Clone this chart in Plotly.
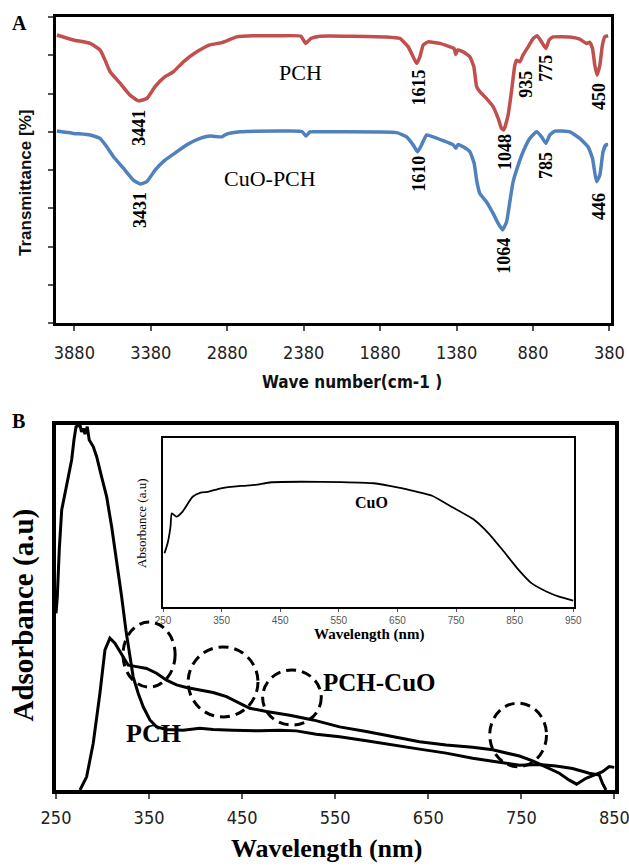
import plotly.graph_objects as go

# ---------------- Panel A : FTIR ----------------
pch_wn = [3994, 3886, 3777, 3712, 3680, 3646, 3581, 3516, 3461, 3406,
          3352, 3287, 3232, 3167, 3079, 2993, 2916, 2818, 2709, 2535,
          2399, 2367, 2333, 2273, 1838, 1751, 1696, 1664, 1641, 1620,
          1598, 1566, 1489, 1424, 1396, 1385, 1373, 1337, 1293, 1267,
          1249, 1228, 1184, 1141, 1108, 1086, 1071, 1043, 1021, 999,
          988, 966, 945, 912, 879, 853, 824, 796, 775, 749,
          639, 574, 530, 509, 491, 476, 461, 443, 426, 411, 389]
pch_t = [7.53, 7.40, 7.31, 7.14, 6.88, 6.57, 6.27, 5.96, 5.81, 5.87,
         6.18, 6.44, 6.57, 6.83, 7.09, 7.27, 7.33, 7.48, 7.51, 7.51,
         7.50, 7.31, 7.44, 7.50, 7.48, 7.44, 7.22, 6.96, 6.79, 6.96,
         7.27, 7.35, 7.31, 7.22, 7.18, 7.02, 7.14, 7.09, 6.96, 6.70,
         6.18, 6.05, 5.87, 5.66, 5.35, 5.09, 5.05, 5.44, 6.05, 6.74,
         6.87, 6.83, 7.01, 7.22, 7.44, 7.51, 7.35, 7.18, 7.40, 7.48,
         7.48, 7.42, 7.31, 7.34, 7.18, 6.74, 6.48, 6.74, 7.27, 7.48, 7.51]

cuo_pch_wn = [3994, 3886, 3777, 3712, 3668, 3624, 3559, 3494, 3450, 3406,
              3352, 3287, 3210, 3145, 3058, 2993, 2916, 2883, 2796, 2535,
              2391, 2365, 2339, 2273, 1772, 1707, 1664, 1635, 1609, 1576,
              1533, 1468, 1402, 1385, 1370, 1337, 1293, 1265, 1249, 1228,
              1184, 1141, 1108, 1079, 1053, 1032, 1010, 977, 945, 901,
              857, 824, 796, 770, 738, 639, 574, 520, 491, 465,
              443, 422, 404, 389]
cuo_pch_t = [5.02, 4.96, 4.92, 4.83, 4.61, 4.35, 4.05, 3.74, 3.64, 3.70,
             4.00, 4.26, 4.48, 4.66, 4.83, 4.89, 4.87, 4.94, 5.00, 5.02,
             5.01, 4.89, 5.00, 5.00, 4.98, 4.87, 4.66, 4.48, 4.66, 4.92,
             4.87, 4.77, 4.66, 4.57, 4.67, 4.61, 4.48, 4.18, 3.74, 3.39,
             3.17, 2.87, 2.61, 2.44, 2.65, 3.17, 3.70, 4.13, 4.48, 4.83,
             5.00, 4.87, 4.70, 4.92, 5.02, 5.00, 4.83, 4.61, 4.31, 3.70,
             3.87, 4.48, 4.66, 4.67]

ftir_ticks = [3880, 3380, 2880, 2380, 1880, 1380, 880, 380]

# peak labels: text, wavenumber position, transmittance position
pch_peak_text = ["3441", "1615", "1048", "935", "775", "450"]
pch_peak_x = [3457, 1623, 1064, 927, 796, 450]
pch_peak_y = [5.11, 6.17, 4.47, 6.25, 6.67, 5.93]
cuo_peak_text = ["3431", "1610", "1064", "785", "446"]
cuo_peak_x = [3450, 1623, 1071, 796, 450]
cuo_peak_y = [2.96, 3.92, 1.76, 4.13, 3.06]

# ---------------- Panel B : UV-Vis ----------------
uv_pch_nm = [250, 251.4, 253.5, 256.1, 259.7, 263.2, 266.8, 269.3, 271.5, 275.8,
             277.4, 279.3, 281.1, 283.6, 285.7, 290, 293.7, 299, 304.4, 309.8,
             315.1, 320.5, 325.1, 329.4, 332.9, 338.3, 343.7, 350.9, 358, 368.8,
             386.6, 404.5, 418.8, 440.2, 468.9, 490.3, 508.3, 529.7, 554.7, 583.4,
             611.9, 640.6, 669.2, 697.7, 726.4, 747.9, 769.3, 787.2, 805, 823,
             833.7, 837.2, 840.9]
uv_pch_abs = [0.484, 0.530, 0.658, 0.767, 0.813, 0.858, 0.904, 0.959, 0.995, 1.0,
              0.981, 0.991, 0.975, 0.995, 0.959, 0.941, 0.913, 0.858, 0.804, 0.721,
              0.630, 0.530, 0.438, 0.365, 0.310, 0.265, 0.228, 0.192, 0.173, 0.166,
              0.164, 0.169, 0.166, 0.164, 0.162, 0.164, 0.162, 0.153, 0.146, 0.135,
              0.123, 0.112, 0.101, 0.087, 0.076, 0.068, 0.070, 0.066, 0.059, 0.046,
              0.041, 0.018, 0.0]

uv_pchcuo_nm = [275.8, 282.9, 290, 297.2, 302.6, 307.9, 313.3, 318.7, 324, 327.6,
                336.6, 347.3, 358, 368.8, 379.5, 390.2, 404.5, 418.8, 433.2, 447.4,
                458.2, 476.1, 501.1, 526.1, 554.7, 583.4, 611.9, 640.6, 669.2, 697.7,
                719.2, 733.6, 747.9, 762.1, 776.5, 790.8, 801.5, 809.3, 819.4, 830.1,
                837.2, 844.4, 849.8]
uv_pchcuo_abs = [0.0, 0.036, 0.128, 0.265, 0.384, 0.416, 0.402, 0.379, 0.356, 0.342,
                 0.338, 0.333, 0.320, 0.301, 0.288, 0.281, 0.274, 0.267, 0.256, 0.238,
                 0.224, 0.215, 0.205, 0.192, 0.173, 0.160, 0.146, 0.132, 0.123, 0.117,
                 0.110, 0.102, 0.093, 0.080, 0.064, 0.046, 0.027, 0.016, 0.032, 0.044,
                 0.050, 0.064, 0.062]

uv_ticks = [250, 350, 450, 550, 650, 750, 850]

# inset : CuO
cuo_nm = [252.6, 258, 262.8, 265, 273.1, 283.4, 300.5, 314.4, 328.1, 348.6,
          383, 407, 434.6, 486, 554.8, 609.6, 637, 671.2, 709.2, 740.2,
          781.3, 805.5, 829.5, 856.8, 877.6, 905, 925.7, 950]
cuo_abs = [0.320, 0.380, 0.477, 0.556, 0.536, 0.566, 0.654, 0.678, 0.684, 0.704,
           0.718, 0.724, 0.740, 0.743, 0.741, 0.734, 0.718, 0.694, 0.660, 0.599,
           0.517, 0.438, 0.339, 0.221, 0.146, 0.092, 0.063, 0.040]
inset_ticks = [250, 350, 450, 550, 650, 750, 850, 950]

# dashed ellipses (nm range, absorbance range)
circle_x0 = [322, 392, 472, 716]
circle_x1 = [378, 467, 535, 777]
circle_y0 = [0.282, 0.200, 0.178, 0.064]
circle_y1 = [0.460, 0.392, 0.329, 0.238]

W, H = 629, 866
def px(x):
    return x / W
def py(y):
    return 1 - y / H

fig = go.Figure()
fig.add_trace(go.Scatter(x=pch_wn, y=pch_t, mode="lines", xaxis="x", yaxis="y",
                         line=dict(color="#C0504D", width=3.5, shape="spline", smoothing=0.4),
                         showlegend=False, hoverinfo="skip"))
fig.add_trace(go.Scatter(x=cuo_pch_wn, y=cuo_pch_t, mode="lines", xaxis="x", yaxis="y",
                         line=dict(color="#4F81BD", width=3.5, shape="spline", smoothing=0.4),
                         showlegend=False, hoverinfo="skip"))
fig.add_trace(go.Scatter(x=uv_pch_nm, y=uv_pch_abs, mode="lines", xaxis="x2", yaxis="y2",
                         line=dict(color="black", width=3),
                         showlegend=False, hoverinfo="skip"))
fig.add_trace(go.Scatter(x=uv_pchcuo_nm, y=uv_pchcuo_abs, mode="lines", xaxis="x2", yaxis="y2",
                         line=dict(color="black", width=3),
                         showlegend=False, hoverinfo="skip"))
fig.add_trace(go.Scatter(x=cuo_nm, y=cuo_abs, mode="lines", xaxis="x3", yaxis="y3",
                         line=dict(color="black", width=1.8, shape="spline", smoothing=0.5),
                         showlegend=False, hoverinfo="skip"))

serif = "Liberation Serif, Times New Roman, serif"
narrow = "Liberation Sans Narrow, Arial Narrow, DejaVu Sans Condensed, sans-serif"
sans = "Liberation Sans, Arial, sans-serif"

def lab(text, x, y, xref, yref, family, size, bold=False, angle=0, color="black"):
    f = dict(family=family, size=size, color=color)
    if bold:
        f["weight"] = "bold"
    return dict(text=text, x=x, y=y, xref=xref, yref=yref, showarrow=False,
                textangle=angle, xanchor="center", yanchor="middle", font=f)

ann = []
for t, x, y in zip(pch_peak_text + cuo_peak_text, pch_peak_x + cuo_peak_x, pch_peak_y + cuo_peak_y):
    ann.append(lab(t, x, y, "x", "y", serif, 18, bold=True, angle=-90))
ann += [
    lab("PCH", 2398, 6.55, "x", "y", serif, 22),
    lab("CuO-PCH", 2600, 3.79, "x", "y", serif, 22),
    lab("PCH", 355, 0.156, "x2", "y2", serif, 26, bold=True),
    lab("PCH-CuO", 598, 0.295, "x2", "y2", serif, 25, bold=True),
    lab("CuO", 605, 0.62, "x3", "y3", serif, 16, bold=True),
    lab("A", px(19), py(23.5), "paper", "paper", serif, 20, bold=True),
    lab("B", px(18), py(421.5), "paper", "paper", serif, 20, bold=True),
    lab("Transmittance [%]", px(26), py(183), "paper", "paper", sans, 17, bold=True,
        angle=-90, color="#111"),
    lab("Wave number(cm-1 )", px(352), py(381.7), "paper", "paper", narrow, 17, bold=True,
        color="#111"),
    lab("Adsorbance (a.u)", px(22.5), py(615), "paper", "paper", serif, 29, bold=True, angle=-90),
    lab("Wavelength (nm)", px(326), py(848), "paper", "paper", serif, 26, bold=True),
    lab("Wavelength (nm)", px(369), py(634), "paper", "paper", serif, 15, bold=True),
    lab("Absorbance (a.u)", px(141), py(523), "paper", "paper", serif, 13, angle=-90),
]

shapes = []
for x0, x1, y0, y1 in zip(circle_x0, circle_x1, circle_y0, circle_y1):
    shapes.append(dict(type="circle", xref="x2", yref="y2", x0=x0, x1=x1, y0=y0, y1=y1,
                       line=dict(color="black", width=3, dash="10px,6px")))

common = dict(showgrid=False, zeroline=False, automargin=False)

fig.update_layout(
    template="none",
    width=W, height=H, autosize=False,
    margin=dict(l=0, r=0, t=0, b=0, pad=0),
    paper_bgcolor="white", plot_bgcolor="white",
    showlegend=False,
    annotations=ann, shapes=shapes,
    xaxis=dict(domain=[px(56), px(611)], range=[4000, 370], anchor="y",
               tickvals=ftir_ticks, ticks="outside", ticklen=5, tickwidth=1.5, tickcolor="#555",
               tickfont=dict(family=narrow, size=18, color="#222"), ticklabelstandoff=6,
               ticklabeloverflow="allow",
               showline=True, linewidth=3, linecolor="black", mirror=True, **common),
    yaxis=dict(domain=[py(323.3), py(17)], range=[0, 8], anchor="x",
               dtick=1, ticks="outside", ticklen=5, tickwidth=1.5, tickcolor="#555",
               showticklabels=False,
               showline=True, linewidth=3, linecolor="black", mirror=True, **common),
    xaxis2=dict(domain=[px(56), px(615)], range=[250, 850.6], anchor="y2",
                tickvals=uv_ticks, ticks="outside", ticklen=5, tickwidth=1.5, tickcolor="#555",
                tickfont=dict(family=narrow, size=18, color="#222"), ticklabelstandoff=3,
                ticklabeloverflow="allow",
                showline=True, linewidth=4, linecolor="black", mirror=True, **common),
    yaxis2=dict(domain=[py(790), py(425)], range=[0, 1], anchor="x2",
                showticklabels=False, ticks="",
                showline=True, linewidth=4, linecolor="black", mirror=True, **common),
    xaxis3=dict(domain=[px(163), px(574.4)], range=[250, 952], anchor="y3",
                tickvals=inset_ticks, ticks="outside", ticklen=3, tickwidth=1, tickcolor="#555",
                tickfont=dict(family=sans, size=10, color="#555"), ticklabelstandoff=0,
                showline=True, linewidth=2, linecolor="black", mirror=True, **common),
    yaxis3=dict(domain=[py(607.3), py(438.3)], range=[0, 1], anchor="x3",
                showticklabels=False, ticks="",
                showline=True, linewidth=2, linecolor="black", mirror=True, **common),
)

fig.write_html("out.html", post_script="document.body.style.margin='0px';",
               config={"displayModeBar": False})
